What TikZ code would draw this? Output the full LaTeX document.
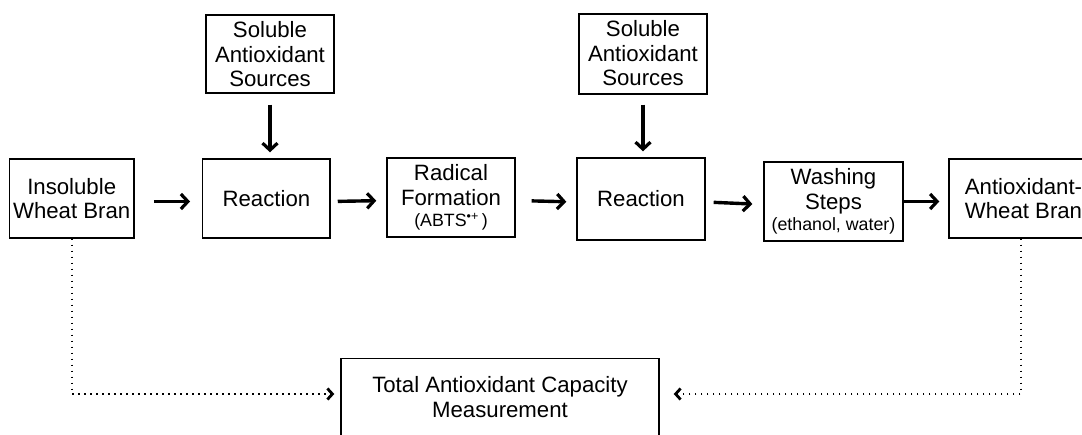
\documentclass[tikz,border=0pt]{standalone}
\usepackage{fontspec}
\setmainfont{Liberation Sans}
\usetikzlibrary{arrows.meta}
\newcommand{\bigtxt}{\fontsize{22.2}{24.8}\selectfont}
\newcommand{\smalltxt}{\fontsize{17.8}{20}\selectfont}
\tikzset{
  box/.style={draw=black, line width=1.4pt, rectangle, align=center, inner sep=0pt, font=\bigtxt},
  flow/.style={line width=3.4pt, -{Straight Barb[length=7pt,width=15pt,line width=3.2pt]}},
  dotflow/.style={line width=1.6pt, dash pattern=on 1.6pt off 4.4pt, -{Straight Barb[length=5pt,width=11pt,line width=2.8pt,sep=0pt]}}
}
\begin{document}
\begin{tikzpicture}[x=1pt,y=1pt]
\useasboundingbox (0,0) rectangle (1082,434);
\node[box, minimum width=124.7pt, minimum height=79pt] (ins) at (71.7,235.5) {Insoluble\\Wheat Bran};
\node[box, minimum width=128pt, minimum height=78pt, text height=72pt, text depth=6pt] (sas1) at (270,380) {Soluble\\Antioxidant\\Sources};
\node[box, minimum width=127.3pt, minimum height=79pt] (r1) at (266.4,235.5) {Reaction};
\node[box, minimum width=128pt, minimum height=79pt] (rad) at (451,236.5) {Radical\\Formation\\[-3pt]{\smalltxt(ABTS\textsuperscript{•+}\,)}};
\node[box, minimum width=128pt, minimum height=80pt, text height=72pt, text depth=8pt] (sas2) at (643,380) {Soluble\\Antioxidant\\Sources};
\node[box, minimum width=128pt, minimum height=82pt] (r2) at (641,235) {Reaction};
\node[box, minimum width=139pt, minimum height=79pt] (wash) at (833.5,232.5) {Washing\\Steps\\[-3pt]{\smalltxt(ethanol, water)}};
\node[box, minimum width=149pt, minimum height=79pt] (awb) at (1023.5,235.5) {Antioxidant-\\Wheat Bran};
\node[box, minimum width=318pt, minimum height=77pt] (tot) at (500,37) {Total Antioxidant Capacity\\Measurement};

\draw[flow, shorten <=19pt, shorten >=12pt] ([yshift=-3pt]ins.east) -- ([yshift=-3pt]r1.west);
\draw[flow, shorten <=7pt, shorten >=10pt] ([yshift=-3pt]r1.east) -- ([yshift=-3pt]rad.west);
\draw[flow, shorten <=16pt, shorten >=10pt] ([yshift=-3pt]rad.east) -- ([yshift=-3pt]r2.west);
\draw[flow, shorten <=8pt, shorten >=11pt] ([yshift=-3pt]r2.east) -- ([yshift=-3pt]wash.west);
\draw[flow, shorten >=9pt] (wash.east) -- (wash.east -| awb.west);
\draw[flow, shorten <=11pt, shorten >=6pt] (sas1.south) -- (sas1.south |- r1.north);
\draw[flow, shorten <=10pt, shorten >=6pt] (sas2.south) -- (sas2.south |- r2.north);

\draw[dotflow, shorten >=6pt] (ins.south) |- ([yshift=3pt]tot.west);
\draw[dotflow, shorten >=14pt] ([xshift=-2.5pt]awb.south) |- ([yshift=3pt]tot.east);
\end{tikzpicture}
\end{document}
